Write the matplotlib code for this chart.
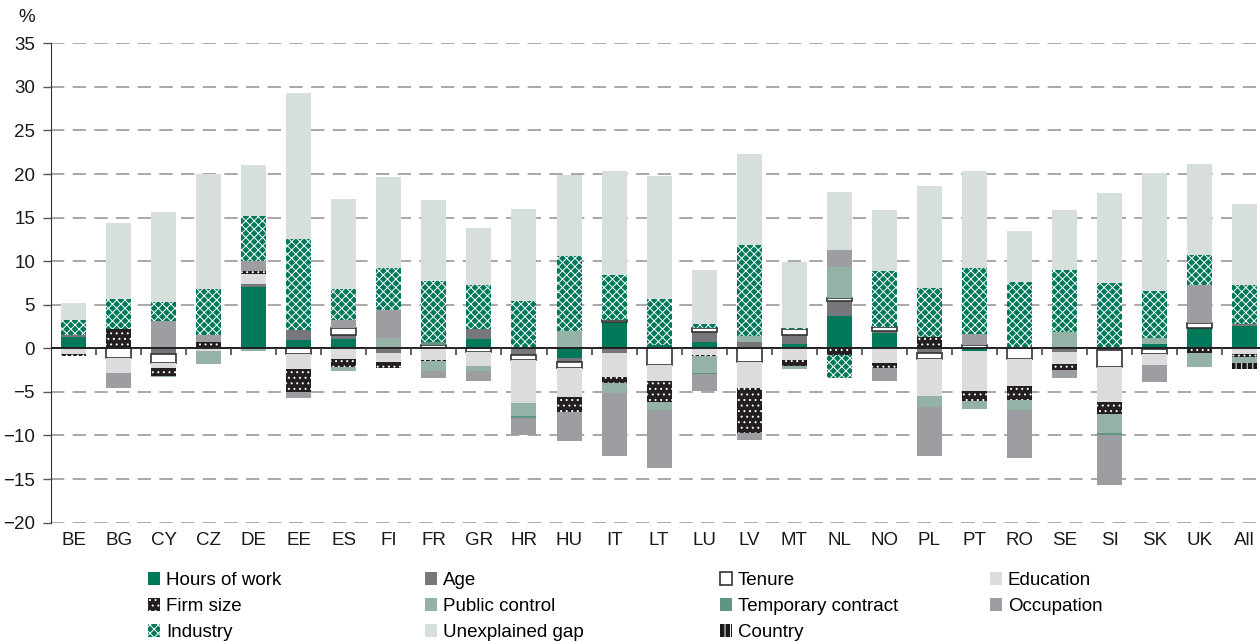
import numpy as np
import matplotlib.pyplot as plt
from matplotlib.patches import Patch

plt.rcParams['font.family'] = ['Liberation Sans', 'DejaVu Sans']
plt.rcParams['hatch.linewidth'] = 0.7

countries = ['BE', 'BG', 'CY', 'CZ', 'DE', 'EE', 'ES', 'FI', 'FR', 'GR', 'HR', 'HU', 'IT', 'LT',
             'LU', 'LV', 'MT', 'NL', 'NO', 'PL', 'PT', 'RO', 'SE', 'SI', 'SK', 'UK', 'All']

# explained components (percentage points), positive and negative stacked from zero
hours = [1.3, 0, 0.2, 0.1, 7.05, 0.95, 1.05, 0, 0, 1.05, 0, -1.15, 3.0, 0.4,
         0.7, 0, 0.5, 3.75, 1.8, 0, -0.3, 0, 0.1, 0, 0.55, 2.35, 2.6]
age = [0.2, 0, -0.65, 0, 0.3, 1.2, 0.5, -0.5, 0, 1.2, -0.8, -0.45, -0.5, 0,
       1.2, 0.75, 1.0, 1.7, 0.2, -0.55, 0, 0, -0.4, -0.2, -0.1, 0, 0.2]
tenure = [0, -1.15, -1.0, 0, 0, -0.65, 0.75, 0, 0.35, -0.4, -0.55, -0.7, 0.3, -1.9,
          0.45, -1.6, 0.75, 0.3, 0.45, -0.7, 0.35, -1.25, 0, -2.0, -0.55, 0.5, 0]
education = [-0.7, -1.7, -0.65, -0.3, 1.2, -1.75, -1.2, -1.05, -1.3, -1.6, -4.9, -3.3, -2.75, -1.8,
             -0.75, -3.0, -1.35, 0, -1.65, -4.2, -4.65, -3.05, -1.35, -4.0, -1.25, 0, -0.65]
firm_size = [-0.2, 2.2, -0.87, 0.65, 0.3, -2.57, -0.95, -0.67, -0.15, 0, 0, -1.75, -0.7, -2.5,
             -0.15, -5.1, -0.7, -0.8, -0.65, 1.35, -1.07, -1.6, -0.77, -1.37, 0, -0.5, -0.35]
public_control = [0, 0, -0.15, -1.5, -0.3, 0, -0.5, 1.2, -1.1, -0.56, -1.55, 2.0, -1.2, -0.84,
                  -1.95, 0.65, -0.37, 3.55, 0, -1.3, -0.96, -1.22, 1.8, -2.17, 0.58, -1.7, -0.65]
temporary = [0, 0, 0, 0, 0, 0, 0, 0, 0.4, 0, -0.15, 0, 0, 0,
             -0.15, 0, 0, 0, 0, 0, 0, 0, 0, -0.2, 0, 0, 0]
occupation = [0, -1.7, 2.95, 0.8, 1.2, -0.76, 0.9, 3.2, -0.88, -1.19, -1.95, -3.25, -7.18, -6.68,
              -1.91, -0.83, 0, 2.0, -1.4, -5.64, 1.34, -5.46, -0.83, -5.73, -1.91, 4.47, 0]
industry = [1.74, 3.45, 2.11, 5.3, 5.1, 10.35, 3.63, 4.8, 7.0, 5.0, 5.42, 8.6, 5.1, 5.27,
            0.39, 10.4, 0.1, -2.55, 6.38, 5.57, 7.48, 7.6, 7.07, 7.44, 5.41, 3.36, 4.47]
country = [0] * 26 + [-0.75]
unexplained = [1.95, 8.75, 10.35, 13.15, 5.85, 16.75, 10.35, 10.5, 9.25, 6.6, 10.55, 9.3, 11.9, 14.05,
               6.25, 10.5, 7.55, 6.6, 7.0, 11.7, 11.2, 5.85, 6.9, 10.4, 13.55, 10.5, 9.25]

dkgreen = '#00785a'
styles = {
    'Hours of work': dict(facecolor=dkgreen, linewidth=0),
    'Age': dict(facecolor='#77777b', linewidth=0),
    'Tenure': dict(facecolor='white', edgecolor='#333333', linewidth=1.2),
    'Education': dict(facecolor='#dcdcde', linewidth=0),
    'Firm size': dict(facecolor='#231f20', edgecolor='white', hatch='...', linewidth=0),
    'Public control': dict(facecolor='#94b3a6', linewidth=0),
    'Temporary contract': dict(facecolor='#5f9683', linewidth=0),
    'Occupation': dict(facecolor='#9d9ea2', linewidth=0),
    'Industry': dict(facecolor=dkgreen, edgecolor='white', hatch='xxxx', linewidth=0),
    'Country': dict(facecolor='#1a1a1a', edgecolor='white', hatch='|||', linewidth=0),
    'Unexplained gap': dict(facecolor='#d6dfdb', linewidth=0),
}

stack = [('Hours of work', hours), ('Age', age), ('Tenure', tenure), ('Education', education),
         ('Firm size', firm_size), ('Public control', public_control),
         ('Temporary contract', temporary), ('Occupation', occupation),
         ('Industry', industry), ('Country', country), ('Unexplained gap', unexplained)]

fig = plt.figure(figsize=(12.6, 6.41), dpi=100)
ax = fig.add_axes([0.0405, 0.1847, 0.9595, 0.7477])

x = np.arange(len(countries))
w = 0.555
pos = np.zeros(len(x))
neg = np.zeros(len(x))
for name, vals in stack:
    v = np.array(vals, dtype=float)
    up = v > 0
    dn = v < 0
    if up.any():
        ax.bar(x[up], v[up], width=w, bottom=pos[up], zorder=2, **styles[name])
    if dn.any():
        ax.bar(x[dn], v[dn], width=w, bottom=neg[dn], zorder=2, **styles[name])
    pos[up] += v[up]
    neg[dn] += v[dn]

ax.set_xlim(-0.5, 26.34)
ax.set_ylim(-20, 35)
ax.set_yticks(range(-20, 40, 5))
ax.set_xticks(x)
ax.set_xticklabels(countries)
ax.yaxis.grid(True, linestyle=(0, (8, 5)), color='#9a9a9a', linewidth=1.2)
ax.set_axisbelow(True)
ax.axhline(0, color='#222222', linewidth=1.4, zorder=3)
ax.vlines(x[:-1] + 0.5, -0.75, 0, color='#444444', linewidth=1.2, zorder=3)

fs = 13.5
for s in ['top', 'right', 'bottom']:
    ax.spines[s].set_visible(False)
ax.spines['left'].set_color('#333333')
ax.tick_params(axis='x', length=0, labelsize=fs, pad=7, colors='#1a1a1a')
ax.tick_params(axis='y', length=6, width=1, color='#555555', labelsize=fs, pad=5.5, labelcolor='#1a1a1a')
fig.text(27 / 1260, 1 - 17 / 641, '%', ha='center', va='center', fontsize=fs, color='#1a1a1a')

# legend, four columns
cols = [['Hours of work', 'Firm size', 'Industry'],
        ['Age', 'Public control', 'Unexplained gap'],
        ['Tenure', 'Temporary contract', 'Country'],
        ['Education', 'Occupation']]
col_x = [148, 425, 720, 990]
for names, cx in zip(cols, col_x):
    handles = [Patch(label=n, **styles[n]) for n in names]
    fig.legend(handles=handles, loc='upper left', bbox_to_anchor=(cx / 1260, 1 - 572 / 641),
               frameon=False, fontsize=fs, handlelength=0.65, handleheight=0.65,
               handletextpad=0.3, labelspacing=0.48, borderpad=0, borderaxespad=0)

fig.savefig('out.png', dpi=100)
